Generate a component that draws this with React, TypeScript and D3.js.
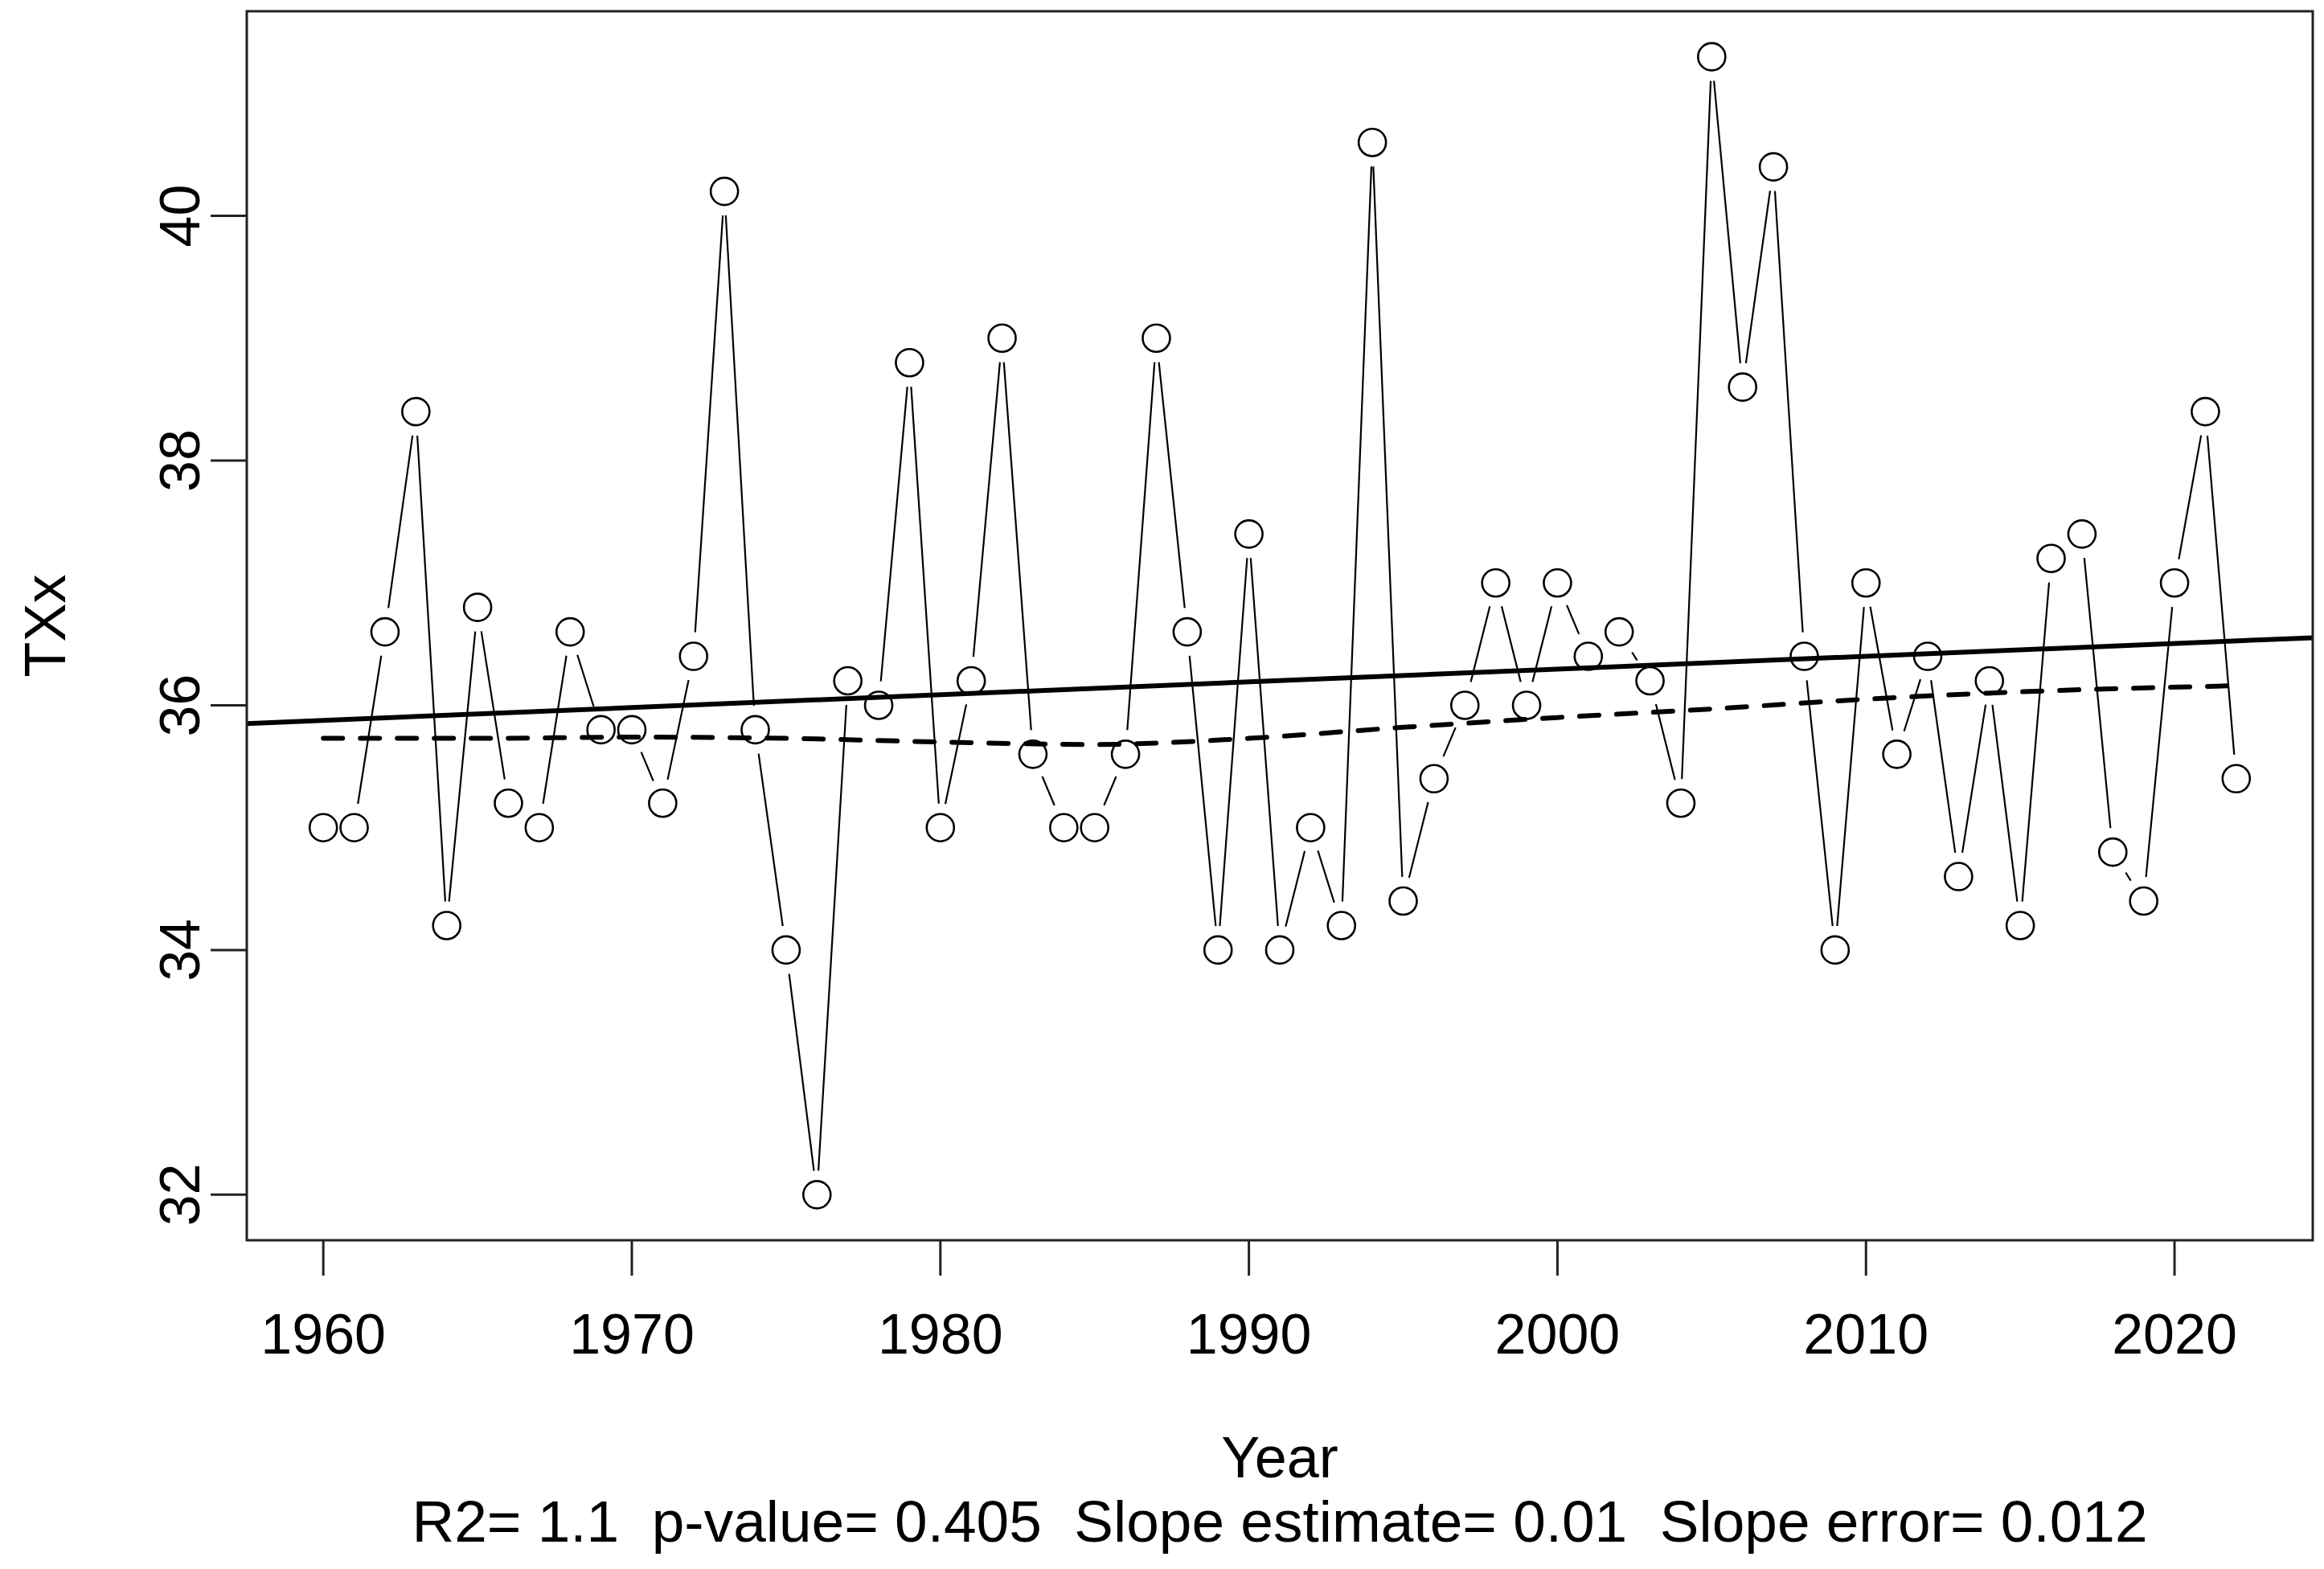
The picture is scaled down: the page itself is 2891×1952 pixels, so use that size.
import React from 'react';
import * as d3 from 'd3';

const years = [
  1960, 1961, 1962, 1963, 1964, 1965, 1966, 1967, 1968, 1969,
  1970, 1971, 1972, 1973, 1974, 1975, 1976, 1977, 1978, 1979,
  1980, 1981, 1982, 1983, 1984, 1985, 1986, 1987, 1988, 1989,
  1990, 1991, 1992, 1993, 1994, 1995, 1996, 1997, 1998, 1999,
  2000, 2001, 2002, 2003, 2004, 2005, 2006, 2007, 2008, 2009,
  2010, 2011, 2012, 2013, 2014, 2015, 2016, 2017, 2018, 2019,
  2020, 2021, 2022,
];

const txx = [
  35.0, 35.0, 36.6, 38.4, 34.2, 36.8, 35.2, 35.0, 36.6, 35.8,
  35.8, 35.2, 36.4, 40.2, 35.8, 34.0, 32.0, 36.2, 36.0, 38.8,
  35.0, 36.2, 39.0, 35.6, 35.0, 35.0, 35.6, 39.0, 36.6, 34.0,
  37.4, 34.0, 35.0, 34.2, 40.6, 34.4, 35.4, 36.0, 37.0, 36.0,
  37.0, 36.4, 36.6, 36.2, 35.2, 41.3, 38.6, 40.4, 36.4, 34.0,
  37.0, 35.6, 36.4, 34.6, 36.2, 34.2, 37.2, 37.4, 34.8, 34.4,
  37.0, 38.4, 35.4,
];

// dashed trend (smoothed)
const trendYears = [1960, 1965, 1970, 1975, 1980, 1985, 1990, 1995, 2000, 2005, 2010, 2015, 2022];
const trendValues = [35.73, 35.73, 35.74, 35.73, 35.70, 35.68, 35.73, 35.82, 35.90, 35.97, 36.05, 36.11, 36.16];

const xTicks = [1960, 1970, 1980, 1990, 2000, 2010, 2020];
const yTicks = [32, 34, 36, 38, 40];

const xLabel = 'Year';
const yLabel = 'TXx';
const subtitle = 'R2= 1.1  p-value= 0.405  Slope estimate= 0.01  Slope error= 0.012';

const W = 2891;
const H = 1952;
const L = 307, R = 2877, T = 14, B = 1543;
const FONT = '"Liberation Sans", Arial, Helvetica, sans-serif';

function ext(min: number, max: number): [number, number] {
  const r = max - min;
  return [min - 0.04 * r, max + 0.04 * r];
}

export default function App() {
  const xDom = ext(d3.min(years)!, d3.max(years)!);
  const yDom = ext(d3.min(txx)!, d3.max(txx)!);
  const x = d3.scaleLinear().domain(xDom).range([L, R]);
  const y = d3.scaleLinear().domain(yDom).range([B, T]);

  // OLS regression
  const mx = d3.mean(years)!;
  const my = d3.mean(txx)!;
  let sxy = 0, sxx = 0;
  years.forEach((yr, i) => { sxy += (yr - mx) * (txx[i] - my); sxx += (yr - mx) ** 2; });
  const slope = sxy / sxx;
  const icpt = my - slope * mx;

  const pts = years.map((yr, i) => [x(yr), y(txx[i])] as [number, number]);
  const r = 17;
  const gap = 30;
  const segs: string[] = [];
  for (let i = 0; i < pts.length - 1; i++) {
    const [x0, y0] = pts[i];
    const [x1, y1] = pts[i + 1];
    const dx = x1 - x0, dy = y1 - y0;
    const d = Math.hypot(dx, dy);
    if (d <= 2 * gap) continue;
    const ux = dx / d, uy = dy / d;
    segs.push(`M${x0 + ux * gap},${y0 + uy * gap}L${x1 - ux * gap},${y1 - uy * gap}`);
  }

  const trendLine = d3.line<number>()
    .x((_, i) => x(trendYears[i]))
    .y((v) => y(v))
    .curve(d3.curveMonotoneX)(trendValues)!;

  return (
    <svg width={W} height={H} style={{ position: 'absolute', left: 0, top: 0, background: '#fff' }}
      fontFamily={FONT}>
      <rect x={0} y={0} width={W} height={H} fill="#fff" />
      <defs>
        <clipPath id="plotclip"><rect x={L} y={T} width={R - L} height={B - T} /></clipPath>
      </defs>
      {/* data line with gaps */}
      <path d={segs.join('')} stroke="#000" strokeWidth={2.2} fill="none" />
      {/* circles */}
      {pts.map(([cx, cy], i) => (
        <circle key={i} cx={cx} cy={cy} r={r} fill="none" stroke="#000" strokeWidth={2.6} />
      ))}
      <g clipPath="url(#plotclip)">
        <line x1={x(xDom[0])} y1={y(icpt + slope * xDom[0])} x2={x(xDom[1])} y2={y(icpt + slope * xDom[1])}
          stroke="#000" strokeWidth={6} />
        <path d={trendLine} stroke="#000" strokeWidth={6} fill="none" strokeDasharray="24 22" strokeLinecap="round" />
      </g>
      {/* box */}
      <rect x={L} y={T} width={R - L} height={B - T} fill="none" stroke="#222" strokeWidth={3} />
      {/* x axis */}
      {xTicks.map((t) => (
        <g key={t}>
          <line x1={x(t)} x2={x(t)} y1={B} y2={B + 44} stroke="#222" strokeWidth={3} />
          <text x={x(t)} y={1684} fontSize={70} textAnchor="middle">{t}</text>
        </g>
      ))}
      {/* y axis */}
      {yTicks.map((t) => (
        <g key={t}>
          <line x1={L - 45} x2={L} y1={y(t)} y2={y(t)} stroke="#222" strokeWidth={3} />
          <text transform={`translate(248,${y(t)}) rotate(-90)`} fontSize={70} textAnchor="middle">{t}</text>
        </g>
      ))}
      <text x={(L + R) / 2} y={1838} fontSize={72} textAnchor="middle">{xLabel}</text>
      <text transform={`translate(81,${(T + B) / 2}) rotate(-90)`} fontSize={72} textAnchor="middle">{yLabel}</text>
      <text x={(L + R) / 2} y={1918} fontSize={73} textAnchor="middle" xmlSpace="preserve"
        style={{ whiteSpace: 'pre' }}>{subtitle}</text>
    </svg>
  );
}
